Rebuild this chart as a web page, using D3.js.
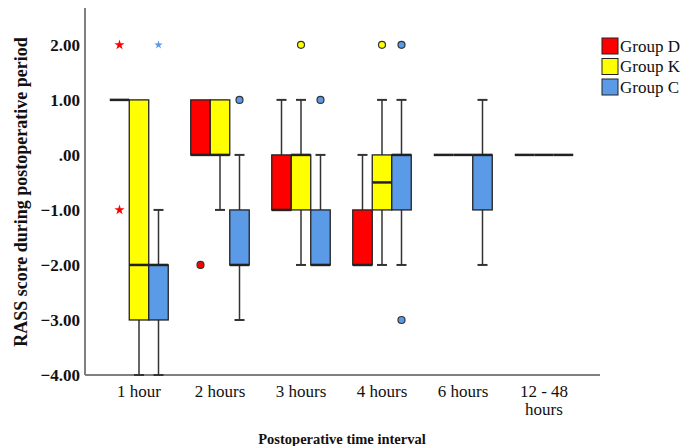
<!DOCTYPE html>
<html>
<head>
<meta charset="utf-8">
<script src="https://cdn.jsdelivr.net/npm/d3@7"></script>
<style>
  body { margin: 0; background: #fff; }
  text { font-family: "Liberation Serif", "Times New Roman", serif; fill: #111; }
</style>
</head>
<body>
<svg id="chart" width="699" height="446"></svg>
<script>
// categories and groups
var categories = ["1 hour", "2 hours", "3 hours", "4 hours", "6 hours", "12 - 48 hours"];
var groups = ["Group D", "Group K", "Group C"];
var groupColors = ["#ff0000", "#ffff00", "#5a9ae6"];
var yTicks = [2, 1, 0, -1, -2, -3, -4];

// box stats per category: [min, q1, median, q3, max]
var statsD = [[1, 1, 1, 1, 1], [0, 0, 0, 1, 1], [-1, -1, -1, 0, 1], [-2, -2, -2, -1, 0], [0, 0, 0, 0, 0], [0, 0, 0, 0, 0]];
var statsK = [[-4, -3, -2, 1, 1], [-1, 0, 0, 1, 1], [-2, -1, 0, 0, 1], [-2, -1, -0.5, 0, 1], [0, 0, 0, 0, 0], [0, 0, 0, 0, 0]];
var statsC = [[-4, -3, -2, -2, -1], [-3, -2, -2, -1, 0], [-2, -2, -2, -1, 0], [-2, -1, 0, 0, 1], [-2, -1, 0, 0, 1], [0, 0, 0, 0, 0]];

// outliers (circles) and extremes (stars) per category
var outliersD = [[], [-2], [], [], [], []];
var outliersK = [[], [], [2], [2], [], []];
var outliersC = [[], [1], [1], [2, -3], [], []];
var extremesD = [[2, -1], [], [], [], [], []];
var extremesK = [[], [], [], [], [], []];
var extremesC = [[2], [], [], [], [], []];

var stats = [statsD, statsK, statsC];
var outliers = [outliersD, outliersK, outliersC];
var extremes = [extremesD, extremesK, extremesC];

var svg = d3.select("#chart");
var axisLeftX = 85, axisBottomY = 375;

var y = d3.scaleLinear().domain([-4, 2.67]).range([axisBottomY, 8]);
var x = d3.scaleBand().domain(categories).range([98.5, 584.5]).padding(0);
var xg = d3.scaleBand().domain(groups).range([-29.25, 29.25]).padding(0);
var bw = xg.bandwidth();

// axes lines
svg.append("line").attr("x1", axisLeftX).attr("x2", axisLeftX).attr("y1", 8).attr("y2", axisBottomY)
  .attr("stroke", "#808080").attr("stroke-width", 2);
svg.append("line").attr("x1", axisLeftX).attr("x2", 600).attr("y1", axisBottomY).attr("y2", axisBottomY)
  .attr("stroke", "#808080").attr("stroke-width", 2);

// y tick labels
var yAxis = svg.append("g").attr("transform", "translate(" + axisLeftX + ",0)")
  .call(d3.axisLeft(y).tickValues(yTicks).tickSize(0).tickPadding(5)
    .tickFormat(function(d) { return d === 0 ? ".00" : d3.format(".2f")(d); }));
yAxis.select(".domain").remove();
yAxis.selectAll("text").attr("font-size", 17).attr("font-weight", "bold")
  .attr("font-family", "Liberation Serif").attr("fill", "#111");

// x tick labels
var xAxis = svg.append("g").attr("transform", "translate(0," + axisBottomY + ")")
  .call(d3.axisBottom(x).tickSize(0).tickPadding(0).tickFormat(""));
xAxis.select(".domain").remove();
xAxis.selectAll(".tick").each(function(d) {
  var t = d3.select(this).append("text").attr("text-anchor", "middle")
    .attr("font-size", 17).attr("font-family", "Liberation Serif").attr("fill", "#111");
  var lines = d === "12 - 48 hours" ? ["12 - 48", "hours"] : [d];
  lines.forEach(function(s, i) {
    t.append("tspan").attr("x", 0).attr("y", 22 + i * 18).text(s);
  });
});

// axis titles
svg.append("text").attr("transform", "translate(27,192) rotate(-90)")
  .attr("text-anchor", "middle").attr("font-size", 18).attr("font-weight", "bold")
  .text("RASS score during postoperative period");
svg.append("text").attr("x", 342).attr("y", 444).attr("text-anchor", "middle")
  .attr("font-size", 14.5).attr("font-weight", "bold")
  .text("Postoperative time interval");

// boxes
var plot = svg.append("g");
groups.forEach(function(g, gi) {
  categories.forEach(function(c, ci) {
    var s = stats[gi][ci];
    var cx = x(c) + x.bandwidth() / 2 + xg(g) + bw / 2;
    var x0 = cx - bw / 2;
    var cg = plot.append("g");
    // whiskers
    if (s[4] > s[3]) {
      cg.append("line").attr("x1", cx).attr("x2", cx).attr("y1", y(s[3])).attr("y2", y(s[4]))
        .attr("stroke", "#333").attr("stroke-width", 1.5);
      cg.append("line").attr("x1", cx - 5).attr("x2", cx + 5).attr("y1", y(s[4])).attr("y2", y(s[4]))
        .attr("stroke", "#333").attr("stroke-width", 2);
    }
    if (s[0] < s[1]) {
      cg.append("line").attr("x1", cx).attr("x2", cx).attr("y1", y(s[1])).attr("y2", y(s[0]))
        .attr("stroke", "#333").attr("stroke-width", 1.5);
      cg.append("line").attr("x1", cx - 5).attr("x2", cx + 5).attr("y1", y(s[0])).attr("y2", y(s[0]))
        .attr("stroke", "#333").attr("stroke-width", 2);
    }
    if (s[3] > s[1]) {
      cg.append("rect").attr("x", x0).attr("y", y(s[3])).attr("width", bw)
        .attr("height", y(s[1]) - y(s[3]))
        .attr("fill", groupColors[gi]).attr("stroke", "#222").attr("stroke-width", 1.3);
    }
    cg.append("line").attr("x1", x0).attr("x2", x0 + bw).attr("y1", y(s[2])).attr("y2", y(s[2]))
      .attr("stroke", "#222").attr("stroke-width", 2.5);

    // outliers
    outliers[gi][ci].forEach(function(v) {
      cg.append("circle").attr("cx", cx).attr("cy", y(v)).attr("r", 3.5)
        .attr("fill", groupColors[gi]).attr("stroke", "#333").attr("stroke-width", 1.2);
    });
    extremes[gi][ci].forEach(function(v) {
      cg.append("path").attr("d", d3.symbol().type(d3.symbolStar).size(gi === 2 ? 22 : 32)())
        .attr("transform", "translate(" + cx + "," + y(v) + ")")
        .attr("fill", groupColors[gi]);
    });
  });
});

// legend
var legend = svg.append("g").attr("transform", "translate(602,38)");
groups.forEach(function(g, i) {
  var row = legend.append("g").attr("transform", "translate(0," + (i * 20.5) + ")");
  row.append("rect").attr("width", 16).attr("height", 16)
    .attr("fill", groupColors[i]).attr("stroke", "#222").attr("stroke-width", 1);
  row.append("text").attr("x", 18).attr("y", 13.5).attr("font-size", 17).text(g);
});
</script>
</body>
</html>
